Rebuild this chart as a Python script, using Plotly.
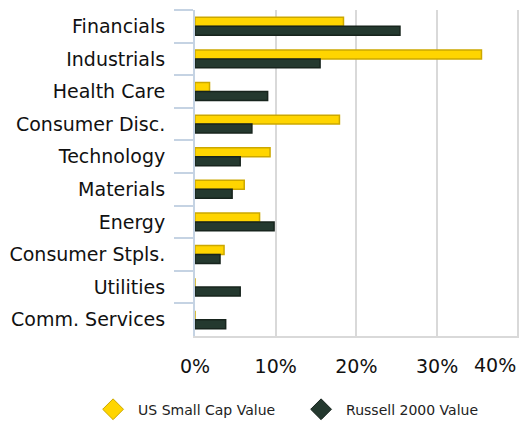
import plotly.graph_objects as go

sectors = ["Financials", "Industrials", "Health Care", "Consumer Disc.", "Technology",
           "Materials", "Energy", "Consumer Stpls.", "Utilities", "Comm. Services"]
us_small_cap_value = [18.4, 35.5, 1.8, 17.9, 9.3, 6.1, 8.0, 3.6, 0, 0]
russell_2000_value = [25.4, 15.5, 9.0, 7.05, 5.6, 4.6, 9.8, 3.1, 5.6, 3.8]
x_tick_vals = [0, 10, 20, 30, 40]
x_tick_text = ["0%", "10%", "20%", "30%", "40%"]

YELLOW = "#FFD500"
YELLOW_EDGE = "#CCA800"
DARK = "#24392F"
DARK_EDGE = "#17241D"
FONT = "DejaVu Sans"

fig = go.Figure()
fig.add_trace(go.Bar(
    y=sectors, x=us_small_cap_value, orientation="h", name="US Small Cap Value",
    marker=dict(color=YELLOW, line=dict(color=YELLOW_EDGE, width=1.5)),
    showlegend=False, legendgroup="a"))
fig.add_trace(go.Bar(
    y=sectors, x=russell_2000_value, orientation="h", name="Russell 2000 Value",
    marker=dict(color=DARK, line=dict(color=DARK_EDGE, width=1.5)),
    showlegend=False, legendgroup="b"))
# legend entries with diamond symbols
fig.add_trace(go.Scatter(x=[None], y=[None], mode="markers", name="US Small Cap Value",
                         marker=dict(symbol="diamond", size=18, color=YELLOW,
                                     line=dict(color=YELLOW_EDGE, width=1)),
                         legendgroup="a"))
fig.add_trace(go.Scatter(x=[None], y=[None], mode="markers", name="Russell 2000 Value",
                         marker=dict(symbol="diamond", size=18, color=DARK,
                                     line=dict(color=DARK_EDGE, width=1)),
                         legendgroup="b"))

fig.update_layout(
    width=519, height=427,
    margin=dict(l=195, r=0, t=10, b=91),
    paper_bgcolor="white", plot_bgcolor="white",
    barmode="group", bargap=0.45, bargroupgap=0,
    font=dict(family=FONT, size=19, color="#111111"),
    showlegend=True,
    legend=dict(orientation="h", x=-0.33, xanchor="left", y=-0.275, yanchor="bottom",
                font=dict(family=FONT, size=14, color="#222222"),
                entrywidth=153, entrywidthmode="pixels", itemwidth=40,
                bgcolor="rgba(0,0,0,0)"),
)
fig.update_xaxes(
    range=[0, 40.15], tickvals=x_tick_vals,
    ticktext=x_tick_text[:-1] + [""],
    showgrid=True, gridcolor="#D9D9D9", gridwidth=2,
    zeroline=False, showline=True, linecolor="#D9D9D9", linewidth=2,
    ticks="", ticklabelstandoff=12,
    tickfont=dict(family=FONT, size=19, color="#111111"),
)
fig.update_yaxes(
    autorange="reversed", type="category",
    showline=True, linecolor="#C5D3E3", linewidth=2,
    ticks="outside", ticklen=19, tickcolor="#C5D3E3", tickwidth=2,
    tickson="boundaries", showgrid=False, ticklabelstandoff=24,
    tickfont=dict(family=FONT, size=19, color="#111111"),
)
fig.add_annotation(x=x_tick_vals[-1], y=0, xref="x", yref="paper", text=x_tick_text[-1],
                   xanchor="right", yanchor="top", yshift=-16, showarrow=False,
                   font=dict(family=FONT, size=19, color="#111111"))

fig.write_html("out.html")
